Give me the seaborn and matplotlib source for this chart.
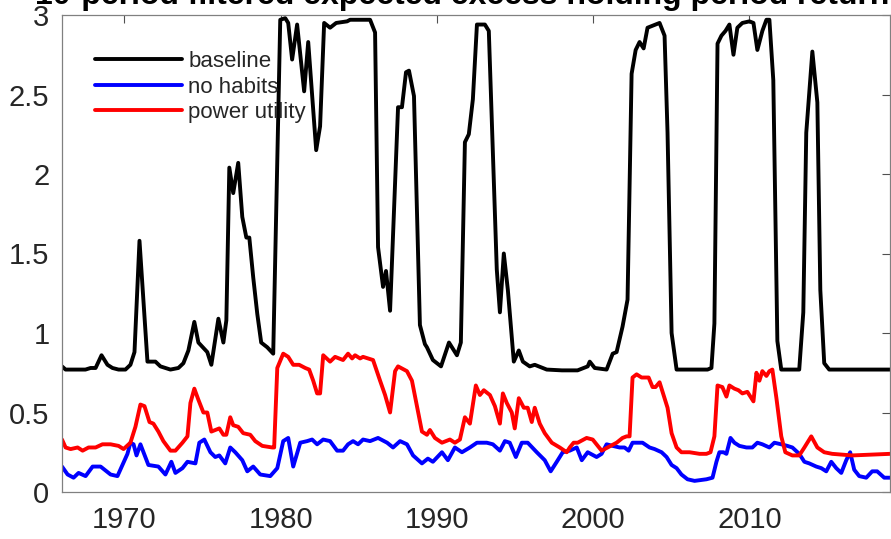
import matplotlib
matplotlib.use("Agg")
import matplotlib.pyplot as plt
import seaborn as sns
import pandas as pd

# ---- data ----
title = "10-period filtered expected excess holding period return"

base_years = [1966.0, 1966.23, 1967.5, 1967.83, 1968.15, 1968.53, 1968.91, 1969.23, 1969.62, 1970.06,
              1970.38, 1970.64, 1970.96, 1971.47, 1971.66, 1971.98, 1972.30, 1972.94, 1973.45, 1973.77,
              1974.09, 1974.47, 1974.73, 1975.30, 1975.56, 1976.01, 1976.33, 1976.52, 1976.71, 1976.96,
              1977.28, 1977.54, 1977.80, 1977.99, 1978.24, 1978.50, 1978.75, 1979.14, 1979.52, 1979.97,
              1980.29, 1980.48, 1980.73, 1981.05, 1981.50, 1981.76, 1982.27, 1982.52, 1982.78, 1983.16,
              1983.29, 1983.55, 1984.25, 1984.44, 1985.72, 1986.04, 1986.23, 1986.55, 1986.74, 1986.93,
              1987.00, 1987.51, 1987.76, 1988.02, 1988.21, 1988.53, 1988.91, 1989.23, 1989.36, 1989.74,
              1990.26, 1990.77, 1991.28, 1991.53, 1991.79, 1992.04, 1992.30, 1992.56, 1993.07, 1993.32,
              1993.83, 1994.03, 1994.28, 1994.54, 1994.92, 1995.24, 1995.50, 1995.94, 1996.26, 1997.03,
              1998.0, 1999.0, 1999.65, 1999.78, 2000.10, 2000.86, 2001.25, 2001.50, 2001.88, 2002.20,
              2002.46, 2002.72, 2002.97, 2003.23, 2003.48, 2003.74, 2004.25, 2004.57, 2004.76, 2005.02,
              2005.34, 2007.32, 2007.57, 2007.76, 2007.96, 2008.21, 2008.47, 2008.72, 2008.98, 2009.23,
              2009.55, 2010.00, 2010.26, 2010.51, 2010.83, 2011.09, 2011.28, 2011.53, 2011.79, 2012.04,
              2013.19, 2013.45, 2013.64, 2014.03, 2014.35, 2014.54, 2014.79, 2015.11, 2019.0]
base_vals = [0.79, 0.77, 0.77, 0.78, 0.78, 0.86, 0.80, 0.78, 0.77, 0.77,
             0.80, 0.88, 1.58, 0.82, 0.82, 0.82, 0.79, 0.77, 0.78, 0.81,
             0.89, 1.07, 0.94, 0.88, 0.80, 1.09, 0.94, 1.08, 2.04, 1.88,
             2.07, 1.73, 1.60, 1.60, 1.35, 1.12, 0.94, 0.91, 0.87, 2.97,
             2.98, 2.95, 2.72, 2.94, 2.52, 2.83, 2.15, 2.30, 2.95, 2.92,
             2.93, 2.95, 2.96, 2.97, 2.97, 2.89, 1.54, 1.29, 1.39, 1.21,
             1.14, 2.42, 2.42, 2.64, 2.65, 2.49, 1.05, 0.93, 0.91, 0.83,
             0.79, 0.94, 0.86, 0.94, 2.20, 2.25, 2.47, 2.94, 2.94, 2.90,
             1.40, 1.13, 1.50, 1.27, 0.82, 0.89, 0.82, 0.79, 0.80, 0.77,
             0.765, 0.765, 0.79, 0.82, 0.78, 0.77, 0.87, 0.88, 1.04, 1.21,
             2.63, 2.78, 2.83, 2.79, 2.92, 2.93, 2.95, 2.87, 2.26, 1.00,
             0.77, 0.77, 0.78, 1.06, 2.82, 2.87, 2.90, 2.94, 2.75, 2.92,
             2.95, 2.96, 2.95, 2.78, 2.90, 2.97, 2.97, 2.59, 0.95, 0.77,
             0.77, 1.13, 2.26, 2.77, 2.45, 1.27, 0.81, 0.77, 0.77]

nohab_years = [1966.0, 1966.36, 1966.74, 1967.06, 1967.51, 1967.96, 1968.47, 1969.11, 1969.55, 1970.19,
               1970.38, 1970.58, 1970.77, 1971.02, 1971.53, 1972.17, 1972.62, 1973.0, 1973.26, 1973.71,
               1974.03, 1974.54, 1974.79, 1975.11, 1975.50, 1975.81, 1976.07, 1976.45, 1976.77, 1977.09,
               1977.54, 1977.86, 1978.24, 1978.69, 1979.33, 1979.78, 1980.16, 1980.48, 1980.80, 1981.25,
               1981.69, 1982.01, 1982.33, 1982.72, 1983.16, 1983.61, 1983.99, 1984.31, 1984.63, 1984.95,
               1985.27, 1985.72, 1986.23, 1986.81, 1987.19, 1987.64, 1988.08, 1988.47, 1989.04, 1989.42,
               1989.74, 1990.32, 1990.70, 1991.15, 1991.60, 1992.11, 1992.56, 1993.19, 1993.58, 1994.03,
               1994.35, 1994.66, 1995.05, 1995.43, 1995.81, 1996.39, 1996.90, 1997.28, 1997.67, 1998.05,
               1998.50, 1998.95, 1999.27, 1999.65, 2000.22, 2000.54, 2000.86, 2001.25, 2001.69, 2002.01,
               2002.27, 2002.52, 2003.16, 2003.61, 2003.93, 2004.38, 2004.70, 2005.02, 2005.34, 2005.65,
               2006.04, 2006.49, 2007.25, 2007.64, 2007.89, 2008.08, 2008.34, 2008.53, 2008.79, 2009.04,
               2009.36, 2009.81, 2010.19, 2010.51, 2010.83, 2011.28, 2011.60, 2012.04, 2012.43, 2012.75,
               2013.19, 2013.52, 2013.83, 2014.28, 2014.60, 2014.92, 2015.24, 2015.56, 2015.88, 2016.20,
               2016.45, 2016.71, 2017.03, 2017.48, 2017.86, 2018.18, 2018.63, 2019.0]
nohab_vals = [0.16, 0.11, 0.09, 0.12, 0.10, 0.16, 0.16, 0.11, 0.10, 0.24,
              0.31, 0.30, 0.23, 0.30, 0.17, 0.16, 0.11, 0.19, 0.12, 0.15,
              0.19, 0.18, 0.31, 0.33, 0.25, 0.22, 0.23, 0.18, 0.28, 0.25,
              0.20, 0.13, 0.16, 0.11, 0.10, 0.15, 0.32, 0.34, 0.16, 0.31,
              0.32, 0.33, 0.30, 0.33, 0.32, 0.26, 0.26, 0.30, 0.32, 0.30,
              0.33, 0.32, 0.34, 0.31, 0.28, 0.32, 0.30, 0.23, 0.18, 0.21,
              0.19, 0.25, 0.20, 0.28, 0.25, 0.28, 0.31, 0.31, 0.30, 0.26,
              0.32, 0.31, 0.22, 0.31, 0.31, 0.25, 0.20, 0.13, 0.19, 0.25,
              0.26, 0.28, 0.20, 0.25, 0.22, 0.24, 0.30, 0.29, 0.28, 0.28,
              0.26, 0.31, 0.31, 0.28, 0.27, 0.25, 0.22, 0.17, 0.15, 0.11,
              0.08, 0.07, 0.08, 0.09, 0.19, 0.25, 0.25, 0.24, 0.34, 0.31,
              0.29, 0.28, 0.28, 0.31, 0.30, 0.28, 0.31, 0.30, 0.29, 0.28,
              0.24, 0.19, 0.18, 0.16, 0.15, 0.13, 0.19, 0.15, 0.12, 0.20,
              0.25, 0.14, 0.10, 0.09, 0.13, 0.13, 0.09, 0.09]

power_years = [1966.0, 1966.23, 1966.55, 1967.0, 1967.32, 1967.70, 1968.15, 1968.59, 1969.11, 1969.62,
               1969.94, 1970.38, 1970.70, 1971.02, 1971.28, 1971.60, 1971.85, 1972.17, 1972.49, 1972.94,
               1973.26, 1973.71, 1974.03, 1974.22, 1974.47, 1974.73, 1975.05, 1975.30, 1975.56, 1975.81,
               1976.07, 1976.33, 1976.52, 1976.77, 1976.96, 1977.28, 1977.60, 1978.05, 1978.37, 1978.82,
               1979.46, 1979.58, 1979.78, 1980.16, 1980.48, 1980.80, 1981.18, 1981.57, 1981.82, 1982.08,
               1982.33, 1982.52, 1982.72, 1983.16, 1983.48, 1983.99, 1984.31, 1984.57, 1984.76, 1985.08,
               1985.27, 1985.91, 1986.36, 1986.68, 1987.00, 1987.32, 1987.51, 1988.08, 1988.40, 1988.72,
               1989.04, 1989.36, 1989.55, 1989.87, 1990.32, 1990.83, 1991.15, 1991.47, 1991.79, 1992.11,
               1992.49, 1992.75, 1993.00, 1993.39, 1993.71, 1994.03, 1994.22, 1994.47, 1994.79, 1994.98,
               1995.24, 1995.56, 1995.81, 1996.07, 1996.26, 1996.58, 1996.90, 1997.35, 1997.86, 1998.31,
               1998.50, 1998.75, 1999.01, 1999.58, 1999.97, 2000.54, 2000.93, 2001.50, 2001.88, 2002.14,
               2002.33, 2002.52, 2002.78, 2003.10, 2003.55, 2003.80, 2003.99, 2004.25, 2004.57, 2004.76,
               2005.02, 2005.34, 2005.65, 2006.17, 2006.81, 2007.25, 2007.51, 2007.76, 2007.96, 2008.27,
               2008.53, 2008.72, 2009.04, 2009.30, 2009.55, 2009.87, 2010.26, 2010.45, 2010.64, 2010.83,
               2011.09, 2011.28, 2011.47, 2011.73, 2012.04, 2012.30, 2012.75, 2013.19, 2013.52, 2013.96,
               2014.35, 2014.79, 2015.30, 2016.58, 2019.0]
power_vals = [0.33, 0.28, 0.27, 0.28, 0.26, 0.28, 0.28, 0.30, 0.30, 0.29,
              0.27, 0.31, 0.41, 0.55, 0.54, 0.44, 0.43, 0.38, 0.32, 0.26,
              0.26, 0.31, 0.35, 0.56, 0.65, 0.58, 0.50, 0.50, 0.38, 0.39,
              0.40, 0.36, 0.36, 0.47, 0.42, 0.41, 0.37, 0.36, 0.32, 0.29,
              0.28, 0.28, 0.78, 0.87, 0.85, 0.80, 0.80, 0.78, 0.77, 0.70,
              0.62, 0.62, 0.86, 0.82, 0.85, 0.83, 0.87, 0.84, 0.86, 0.84,
              0.85, 0.83, 0.70, 0.61, 0.50, 0.76, 0.79, 0.76, 0.70, 0.54,
              0.38, 0.36, 0.39, 0.34, 0.31, 0.33, 0.31, 0.33, 0.47, 0.43,
              0.67, 0.61, 0.64, 0.61, 0.54, 0.43, 0.62, 0.56, 0.50, 0.40,
              0.59, 0.53, 0.53, 0.44, 0.53, 0.43, 0.37, 0.31, 0.28, 0.25,
              0.28, 0.31, 0.31, 0.34, 0.33, 0.26, 0.28, 0.31, 0.34, 0.35,
              0.35, 0.72, 0.74, 0.72, 0.72, 0.66, 0.66, 0.69, 0.59, 0.53,
              0.37, 0.28, 0.25, 0.25, 0.24, 0.24, 0.25, 0.35, 0.67, 0.66,
              0.60, 0.67, 0.65, 0.64, 0.62, 0.63, 0.57, 0.75, 0.70, 0.76,
              0.73, 0.76, 0.77, 0.59, 0.35, 0.25, 0.23, 0.23, 0.28, 0.35,
              0.28, 0.25, 0.24, 0.23, 0.24]

series_labels = ["baseline", "no habits", "power utility"]
series_colors = ["black", "blue", "red"]
year_ticks = [1970, 1980, 1990, 2000, 2010]
y_ticks = [0, 0.5, 1, 1.5, 2, 2.5, 3]
y_ticklabels = ["0", "0.5", "1", "1.5", "2", "2.5", "3"]

frames = []
for lab, yrs, vals in zip(series_labels,
                          [base_years, nohab_years, power_years],
                          [base_vals, nohab_vals, power_vals]):
    frames.append(pd.DataFrame({"year": yrs, "value": vals, "model": lab}))
df = pd.concat(frames, ignore_index=True)

sns.set_style("white")
plt.rcParams["font.family"] = ["Liberation Sans", "DejaVu Sans"]

fig = plt.figure(figsize=(8.91, 5.39), dpi=100)
ax = fig.add_axes([62 / 891, 47 / 539, 828 / 891, 477 / 539])

sns.lineplot(data=df, x="year", y="value", hue="model", hue_order=series_labels,
             palette=series_colors, estimator=None, sort=False, lw=2.8, ax=ax)

ax.set_xlim(1966, 2019)
ax.set_ylim(0, 3)
ax.set_xticks(year_ticks)
ax.set_yticks(y_ticks)
ax.set_yticklabels(y_ticklabels)
ax.set_xlabel("")
ax.set_ylabel("")

for sp in ax.spines.values():
    sp.set_visible(True)
    sp.set_color("#808080")
    sp.set_linewidth(0.9)
ax.tick_params(direction="in", length=6, width=0.8, color="#505050",
               top=True, right=True, labelsize=21, labelcolor="#262626")
ax.tick_params(axis="y", pad=9)
ax.tick_params(axis="x", pad=10)

ax.legend(loc="upper left", bbox_to_anchor=(0.040, 0.924), frameon=False, fontsize=16,
          handlelength=3.9, handletextpad=0.3, labelspacing=0.2, borderpad=0,
          borderaxespad=0)

# title sits mostly above the figure edge, as in the reference
ax.text(-0.0326, 1 + 11 / 477, title, transform=ax.transAxes, ha="left", va="baseline",
        fontsize=23, fontweight="bold", color="black")

fig.savefig("out.png", dpi=100)
